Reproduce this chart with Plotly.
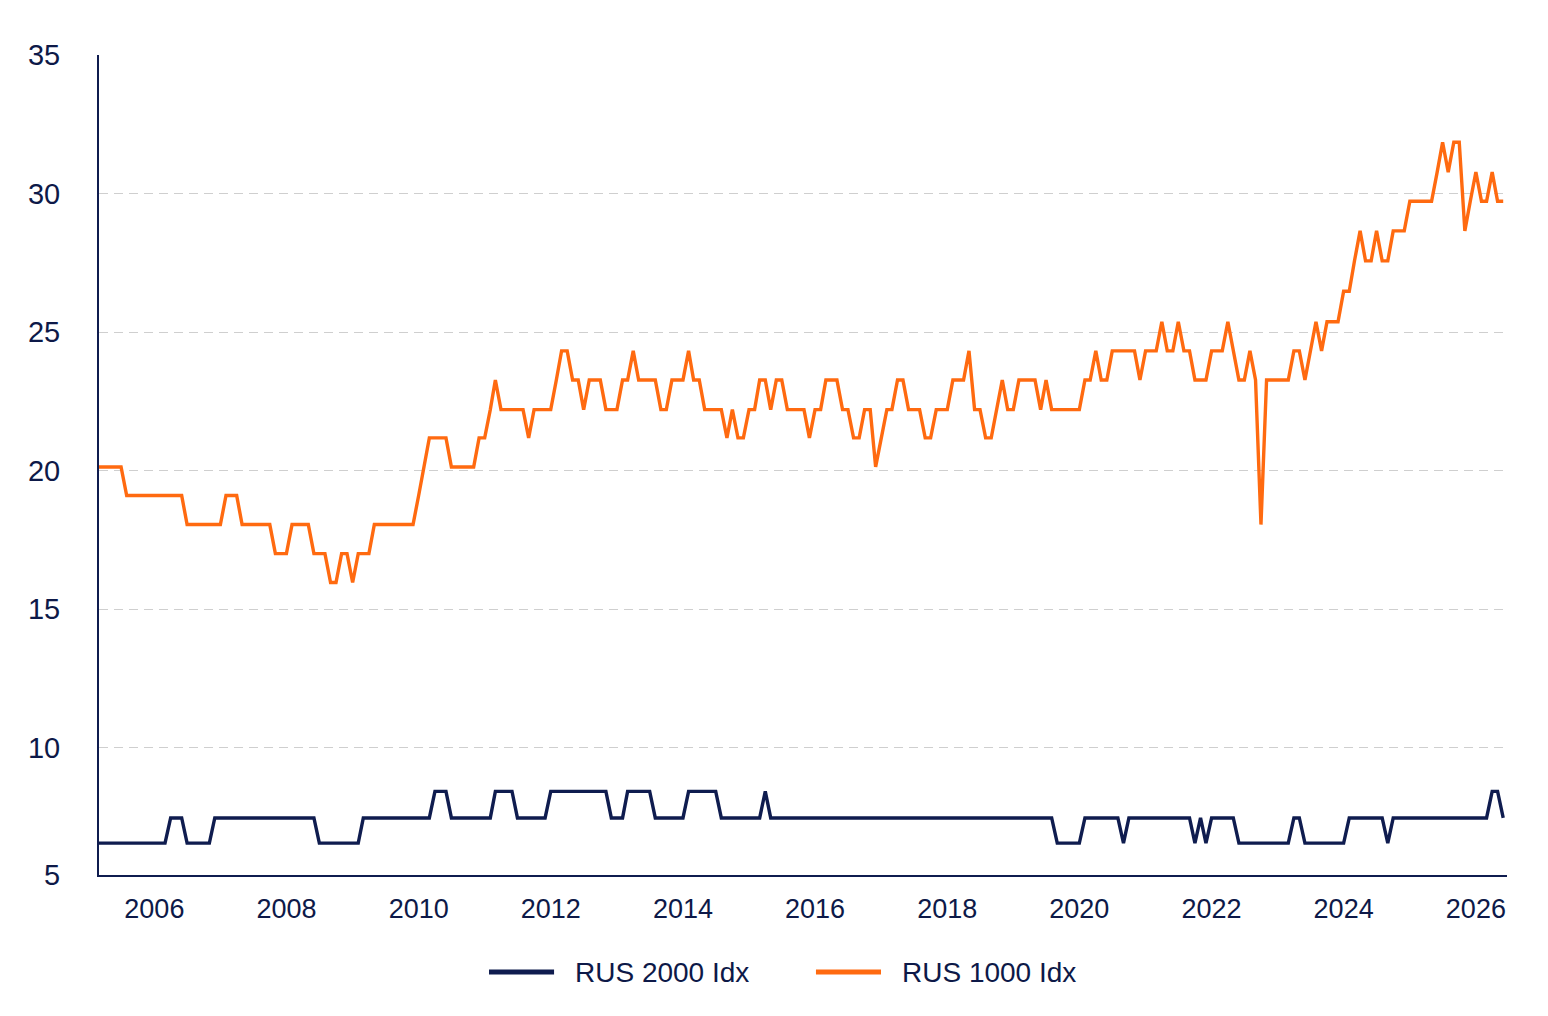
import pandas as pd
import plotly.graph_objects as go

# Monthly observations, March 2005 - June 2026
dates = pd.date_range("2005-03-01", periods=256, freq="MS")

rus1000 = [
    # 2005 Mar-Dec
    20.13, 20.13, 20.13, 20.13, 20.13, 19.1, 19.1, 19.1, 19.1, 19.1,
    # 2006
    19.1, 19.1, 19.1, 19.1, 19.1, 19.1, 18.05, 18.05, 18.05, 18.05, 18.05, 18.05,
    # 2007
    18.05, 19.1, 19.1, 19.1, 18.05, 18.05, 18.05, 18.05, 18.05, 18.05, 17.0, 17.0,
    # 2008
    17.0, 18.05, 18.05, 18.05, 18.05, 17.0, 17.0, 17.0, 15.96, 15.96, 17.0, 17.0,
    # 2009
    15.96, 17.0, 17.0, 17.0, 18.05, 18.05, 18.05, 18.05, 18.05, 18.05, 18.05, 18.05,
    # 2010
    19.1, 20.13, 21.18, 21.18, 21.18, 21.18, 20.13, 20.13, 20.13, 20.13, 20.13, 21.18,
    # 2011
    21.18, 22.2, 23.27, 22.2, 22.2, 22.2, 22.2, 22.2, 21.18, 22.2, 22.2, 22.2,
    # 2012
    22.2, 23.27, 24.32, 24.32, 23.27, 23.27, 22.2, 23.27, 23.27, 23.27, 22.2, 22.2,
    # 2013
    22.2, 23.27, 23.27, 24.32, 23.27, 23.27, 23.27, 23.27, 22.2, 22.2, 23.27, 23.27,
    # 2014
    23.27, 24.32, 23.27, 23.27, 22.2, 22.2, 22.2, 22.2, 21.18, 22.2, 21.18, 21.18,
    # 2015
    22.2, 22.2, 23.27, 23.27, 22.2, 23.27, 23.27, 22.2, 22.2, 22.2, 22.2, 21.18,
    # 2016
    22.2, 22.2, 23.27, 23.27, 23.27, 22.2, 22.2, 21.18, 21.18, 22.2, 22.2, 20.13,
    # 2017
    21.18, 22.2, 22.2, 23.27, 23.27, 22.2, 22.2, 22.2, 21.18, 21.18, 22.2, 22.2,
    # 2018
    22.2, 23.27, 23.27, 23.27, 24.32, 22.2, 22.2, 21.18, 21.18, 22.2, 23.27, 22.2,
    # 2019
    22.2, 23.27, 23.27, 23.27, 23.27, 22.2, 23.27, 22.2, 22.2, 22.2, 22.2, 22.2,
    # 2020
    22.2, 23.27, 23.27, 24.32, 23.27, 23.27, 24.32, 24.32, 24.32, 24.32, 24.32, 23.27,
    # 2021
    24.32, 24.32, 24.32, 25.37, 24.32, 24.32, 25.37, 24.32, 24.32, 23.27, 23.27, 23.27,
    # 2022
    24.32, 24.32, 24.32, 25.37, 24.32, 23.27, 23.27, 24.32, 23.27, 18.05, 23.27, 23.27,
    # 2023
    23.27, 23.27, 23.27, 24.32, 24.32, 23.27, 24.32, 25.37, 24.32, 25.37, 25.37, 25.37,
    # 2024
    26.47, 26.47, 27.57, 28.65, 27.57, 27.57, 28.65, 27.57, 27.57, 28.65, 28.65, 28.65,
    # 2025
    29.72, 29.72, 29.72, 29.72, 29.72, 30.77, 31.85, 30.77, 31.85, 31.85, 28.65, 29.72,
    # 2026 Jan-Jun
    30.77, 29.72, 29.72, 30.77, 29.72, 29.72,
]

rus2000 = [
    # 2005 Mar-Dec
    6.55, 6.55, 6.55, 6.55, 6.55, 6.55, 6.55, 6.55, 6.55, 6.55,
    # 2006
    6.55, 6.55, 6.55, 7.46, 7.46, 7.46, 6.55, 6.55, 6.55, 6.55, 6.55, 7.46,
    # 2007
    7.46, 7.46, 7.46, 7.46, 7.46, 7.46, 7.46, 7.46, 7.46, 7.46, 7.46, 7.46,
    # 2008
    7.46, 7.46, 7.46, 7.46, 7.46, 7.46, 6.55, 6.55, 6.55, 6.55, 6.55, 6.55,
    # 2009
    6.55, 6.55, 7.46, 7.46, 7.46, 7.46, 7.46, 7.46, 7.46, 7.46, 7.46, 7.46,
    # 2010
    7.46, 7.46, 7.46, 8.42, 8.42, 8.42, 7.46, 7.46, 7.46, 7.46, 7.46, 7.46,
    # 2011
    7.46, 7.46, 8.42, 8.42, 8.42, 8.42, 7.46, 7.46, 7.46, 7.46, 7.46, 7.46,
    # 2012
    8.42, 8.42, 8.42, 8.42, 8.42, 8.42, 8.42, 8.42, 8.42, 8.42, 8.42, 7.46,
    # 2013
    7.46, 7.46, 8.42, 8.42, 8.42, 8.42, 8.42, 7.46, 7.46, 7.46, 7.46, 7.46,
    # 2014
    7.46, 8.42, 8.42, 8.42, 8.42, 8.42, 8.42, 7.46, 7.46, 7.46, 7.46, 7.46,
    # 2015
    7.46, 7.46, 7.46, 8.42, 7.46, 7.46, 7.46, 7.46, 7.46, 7.46, 7.46, 7.46,
    # 2016
    7.46, 7.46, 7.46, 7.46, 7.46, 7.46, 7.46, 7.46, 7.46, 7.46, 7.46, 7.46,
    # 2017
    7.46, 7.46, 7.46, 7.46, 7.46, 7.46, 7.46, 7.46, 7.46, 7.46, 7.46, 7.46,
    # 2018
    7.46, 7.46, 7.46, 7.46, 7.46, 7.46, 7.46, 7.46, 7.46, 7.46, 7.46, 7.46,
    # 2019
    7.46, 7.46, 7.46, 7.46, 7.46, 7.46, 7.46, 7.46, 6.55, 6.55, 6.55, 6.55,
    # 2020
    6.55, 7.46, 7.46, 7.46, 7.46, 7.46, 7.46, 7.46, 6.55, 7.46, 7.46, 7.46,
    # 2021
    7.46, 7.46, 7.46, 7.46, 7.46, 7.46, 7.46, 7.46, 7.46, 6.55, 7.46, 6.55,
    # 2022
    7.46, 7.46, 7.46, 7.46, 7.46, 6.55, 6.55, 6.55, 6.55, 6.55, 6.55, 6.55,
    # 2023
    6.55, 6.55, 6.55, 7.46, 7.46, 6.55, 6.55, 6.55, 6.55, 6.55, 6.55, 6.55,
    # 2024
    6.55, 7.46, 7.46, 7.46, 7.46, 7.46, 7.46, 7.46, 6.55, 7.46, 7.46, 7.46,
    # 2025
    7.46, 7.46, 7.46, 7.46, 7.46, 7.46, 7.46, 7.46, 7.46, 7.46, 7.46, 7.46,
    # 2026 Jan-Jun
    7.46, 7.46, 7.46, 8.42, 8.42, 7.46,
]

series_names = ["RUS 2000 Idx", "RUS 1000 Idx"]
y_tick_vals = [5.4, 10, 15, 20, 25, 30, 35]
y_tick_text = ["5", "10", "15", "20", "25", "30", "35"]

NAVY = "#0f1c4f"
ORANGE = "#ff6a10"
TEXT = "#0d1948"
FONT = "Liberation Sans, Arial, sans-serif"
colors = [NAVY, ORANGE]

fig = go.Figure()
fig.add_trace(go.Scatter(x=dates, y=rus2000, mode="lines", name=series_names[0],
                         line=dict(color=NAVY, width=3.4)))
fig.add_trace(go.Scatter(x=dates, y=rus1000, mode="lines", name=series_names[1],
                         line=dict(color=ORANGE, width=3.4)))

# Legend drawn below the plot: line sample + label for each series
legend_items = [(0.2770, 0.3232, 0.3367), (0.5092, 0.5554, 0.5689)]
legend_y = -0.1183
for name, col, (x0, x1, xt) in zip(series_names, colors, legend_items):
    fig.add_shape(type="line", xref="paper", yref="paper", x0=x0, x1=x1,
                  y0=legend_y, y1=legend_y, line=dict(color=col, width=5))
    fig.add_annotation(xref="paper", yref="paper", x=xt, y=legend_y, text=name,
                       showarrow=False, xanchor="left", yanchor="middle",
                       font=dict(size=28, color=TEXT, family=FONT))

fig.update_layout(
    width=1548, height=1016,
    margin=dict(l=99, r=41, t=55, b=141),
    paper_bgcolor="white", plot_bgcolor="white",
    font=dict(family=FONT, color=TEXT, size=26),
    showlegend=False,
)
fig.update_xaxes(
    type="date", range=["2005-03-01", "2026-06-22"],
    tick0="2006-01-01", dtick="M24", tickformat="%Y",
    showgrid=False, zeroline=False,
    showline=True, linecolor=NAVY, linewidth=2,
    ticks="", ticklabelstandoff=9,
    tickfont=dict(size=27, color=TEXT, family=FONT),
)
fig.update_yaxes(
    range=[5.4, 35], tickmode="array", tickvals=y_tick_vals, ticktext=y_tick_text,
    showgrid=True, gridcolor="#cfcfcf", gridwidth=1.3, griddash="9px,6px",
    zeroline=False, showline=True, linecolor=NAVY, linewidth=2,
    ticks="", ticklabelstandoff=31,
    tickfont=dict(size=29, color=TEXT, family=FONT),
)

fig.write_html("out.html")
